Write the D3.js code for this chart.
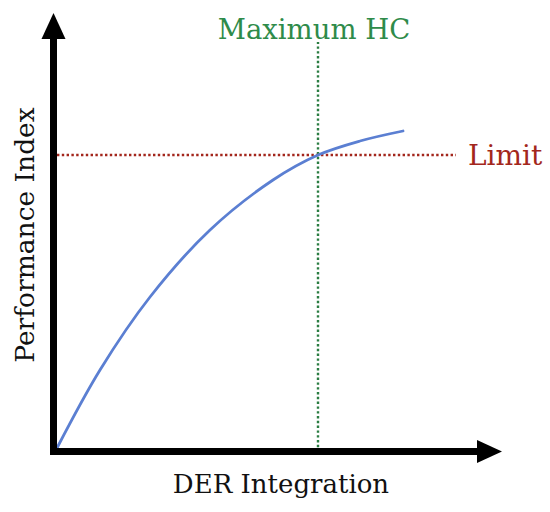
<!DOCTYPE html>
<html>
<head>
<meta charset="utf-8">
<script src="https://cdn.jsdelivr.net/npm/d3@7"></script>
<style>
  html, body { margin: 0; padding: 0; background: #fff; }
  svg { display: block; }
  text { font-family: "DejaVu Serif", "Liberation Serif", serif; }
</style>
</head>
<body>
<svg id="chart" width="550" height="512"></svg>
<script>
// ---- data (schematic units, 0-100 on each axis) ----
const curveX = [0, 10.75, 23.25, 38.25, 54, 65.25, 75.75, 86.5];
const curveY = [0, 19.5, 37.75, 54.5, 67, 73.25, 76.75, 79.25];
const limitValue = 73.25;       // horizontal "Limit" line
const maxHCValue = 65.25;       // vertical "Maximum HC" line
const limitLineEnd = 99.75;
const maxHCLineTop = 101.5;
const labels = {
  x: "DER Integration",
  y: "Performance Index",
  limit: "Limit",
  maxHC: "Maximum HC"
};

const svg = d3.select("#chart");
const x = d3.scaleLinear().domain([0, 100]).range([57, 457]);
const y = d3.scaleLinear().domain([0, 100]).range([448, 48]);

const pts = curveX.map((v, i) => [v, curveY[i]]);

// vertical green dotted line
svg.append("line")
  .attr("x1", x(maxHCValue)).attr("x2", x(maxHCValue))
  .attr("y1", 452).attr("y2", y(maxHCLineTop))
  .attr("stroke", "#2a7d42").attr("stroke-width", 2.4)
  .attr("stroke-dasharray", "2.4,2.4");

// horizontal red dotted line
svg.append("line")
  .attr("x1", x(0)).attr("x2", x(limitLineEnd))
  .attr("y1", y(limitValue)).attr("y2", y(limitValue))
  .attr("stroke", "#a3261c").attr("stroke-width", 2.4)
  .attr("stroke-dasharray", "2.4,2.4");

// curve
svg.append("path")
  .datum(pts)
  .attr("fill", "none")
  .attr("stroke", "#5b7fd2")
  .attr("stroke-width", 2.8)
  .attr("stroke-linecap", "round")
  .attr("d", d3.line().x(d => x(d[0])).y(d => y(d[1])).curve(d3.curveCatmullRom));

// axes
const ax = 53.5, ay = 451.5;
svg.append("line")
  .attr("x1", ax).attr("x2", ax).attr("y1", ay + 3.5).attr("y2", 36)
  .attr("stroke", "#000").attr("stroke-width", 7);
svg.append("line")
  .attr("x1", ax - 3.5).attr("x2", 480).attr("y1", ay).attr("y2", ay)
  .attr("stroke", "#000").attr("stroke-width", 7);
svg.append("path")
  .attr("d", `M${ax},13 L${ax - 12},39 L${ax + 12},39 Z`)
  .attr("fill", "#000");
svg.append("path")
  .attr("d", `M502,${ay} L477,${ay - 11.5} L477,${ay + 11.5} Z`)
  .attr("fill", "#000");

// labels
svg.append("text")
  .attr("x", 281).attr("y", 493)
  .attr("text-anchor", "middle")
  .attr("font-size", 26)
  .attr("fill", "#111")
  .text(labels.x);

svg.append("text")
  .attr("transform", "translate(34,235) rotate(-90)")
  .attr("text-anchor", "middle")
  .attr("font-size", 26.5)
  .attr("fill", "#111")
  .text(labels.y);

svg.append("text")
  .attr("x", 314).attr("y", 39)
  .attr("text-anchor", "middle")
  .attr("font-size", 27.5)
  .attr("fill", "#2e8b4a")
  .text(labels.maxHC);

svg.append("text")
  .attr("x", 468).attr("y", 165)
  .attr("font-size", 28)
  .attr("fill", "#a3271c")
  .text(labels.limit);
</script>
</body>
</html>
